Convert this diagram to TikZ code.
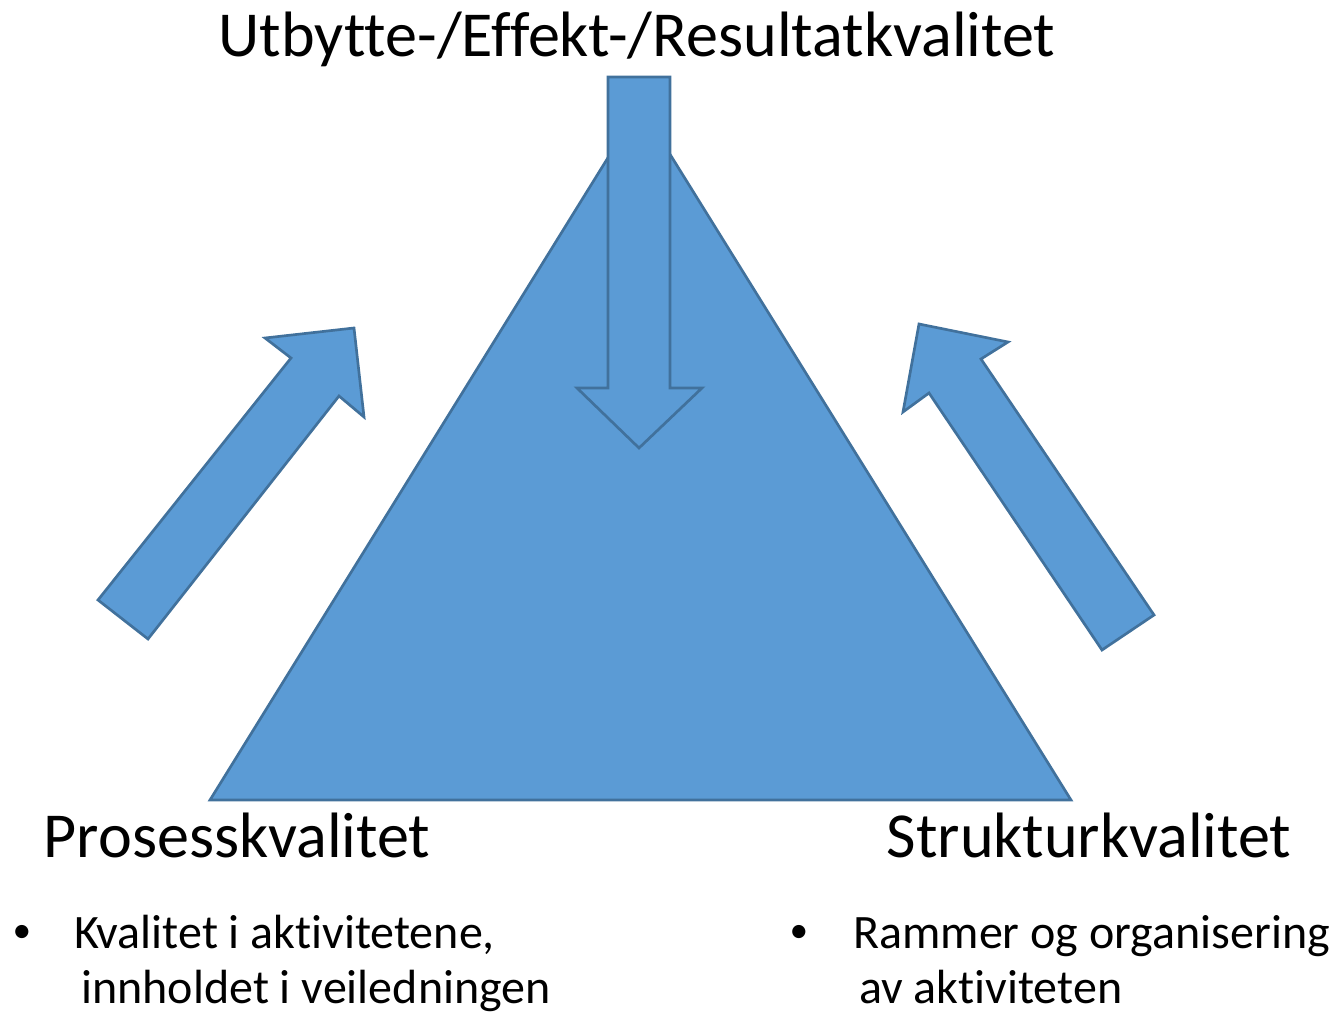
\documentclass[tikz,border=0pt]{standalone}
\usepackage{fontspec}
\setmainfont{Carlito}[Ligatures=NoCommon]
\usepackage{tikz}
\definecolor{fillblue}{RGB}{91,155,213}
\definecolor{lineblue}{RGB}{65,113,156}
\newcommand{\drawshape}{\draw[line width=2pt, fill=fillblue, draw=lineblue, line join=miter]}
\newcommand{\headfont}{\fontsize{48.1}{56}\selectfont}
\newcommand{\bodyfont}{\fontsize{36}{40}\selectfont}
\tikzset{
  head/.style={inner sep=0pt, anchor=base, font=\headfont},
  line/.style={inner sep=0pt, anchor=base west, font=\bodyfont},
  dot/.style={inner sep=0pt, anchor=center, font=\fontsize{28}{30}\selectfont}
}
\begin{document}
\begin{tikzpicture}[x=0.75pt, y=-0.75pt]
\useasboundingbox (0,0) rectangle (1339,1013);
\drawshape (210,800)--(640,106)--(1071,800)--cycle;
    \drawshape (608,77)--(670,77)--(670,388)--(702,388)--(639,448)--(577,388)--(608,388)--cycle;
    \drawshape (98,600)--(291,358)--(265,338)--(354,328)--(364,417)--(339,396)--(148,639)--cycle;
    \drawshape (1154,615)--(981,359)--(1008,342)--(919,324)--(903,412)--(929,393)--(1102,650)--cycle;
\node[head] (resultat) at (637,57) {Utbytte-/Effekt-/Resultatkvalitet};
\node[head] (prosess) at (237,857) {Prosesskvalitet};
\node[head] (struktur) at (1089,857) {Strukturkvalitet};
\node[dot] (prosessdot) at (22,934) {•};
\node[line] (prosess1) at (74,948) {Kvalitet i aktivitetene,};
\node[line] (prosess2) at (81,1003) {innholdet i veiledningen};
\node[dot] (strukturdot) at (799,934) {•};
\node[line] (struktur1) at (853,948) {Rammer og organisering};
\node[line] (struktur2) at (859,1003) {av aktiviteten};
\end{tikzpicture}
\end{document}
